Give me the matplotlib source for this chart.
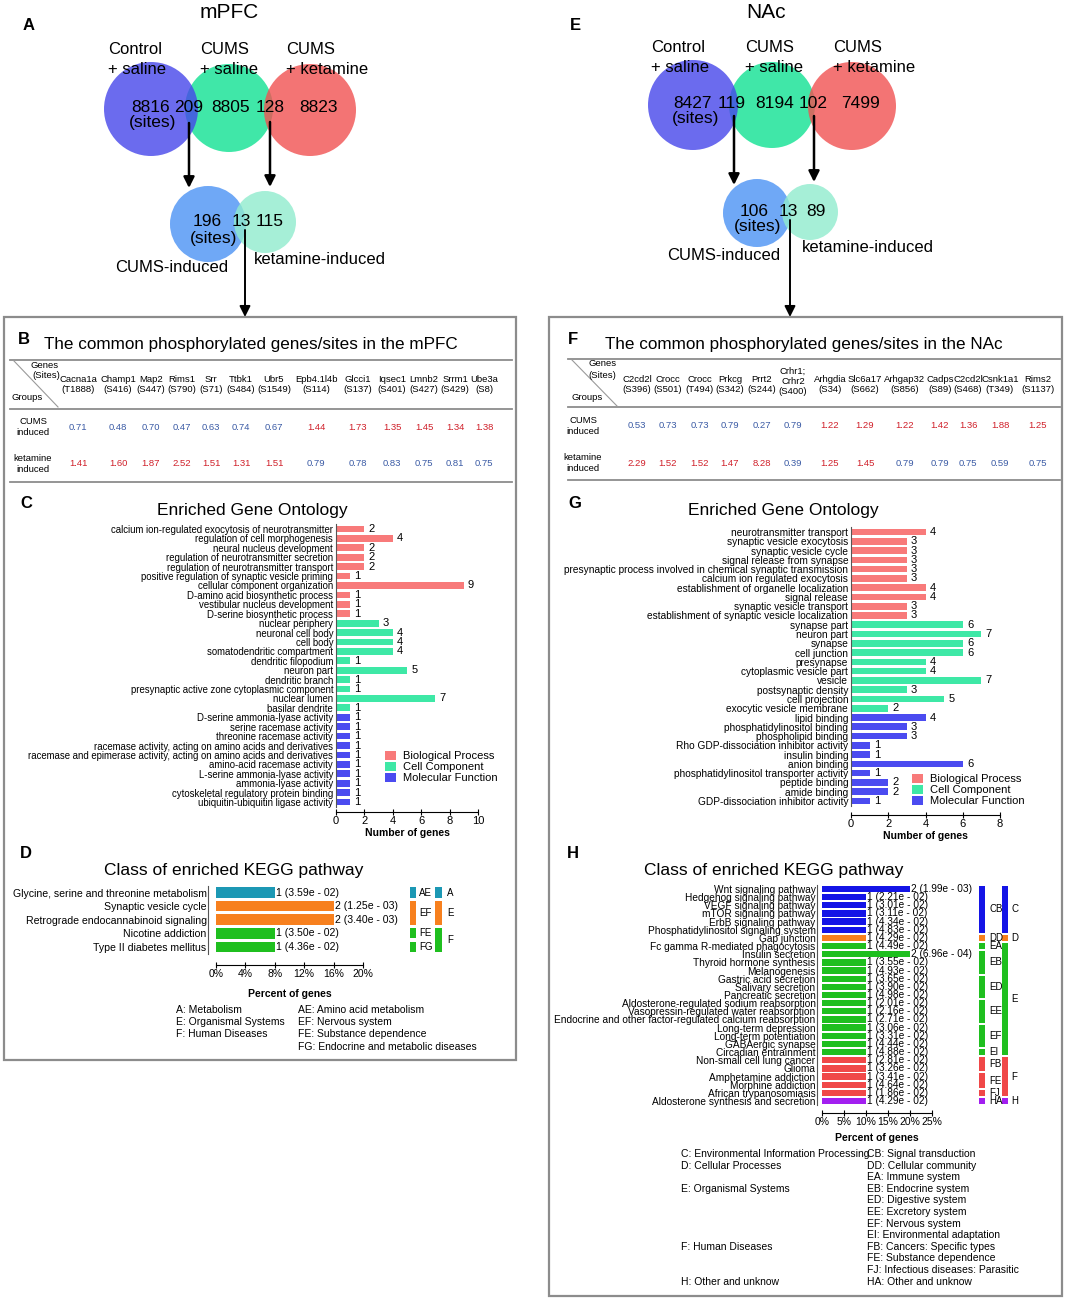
import matplotlib
matplotlib.use("Agg")
import matplotlib.pyplot as plt
import matplotlib.transforms as mtransforms
from matplotlib.patches import Circle, Rectangle, Patch

plt.rcParams['font.family'] = ['Liberation Sans', 'DejaVu Sans']

# ---------------- data ----------------
mpfc_top = [8816, 209, 8805, 128, 8823]
mpfc_sub = [196, 13, 115]
nac_top = [8427, 119, 8194, 102, 7499]
nac_sub = [106, 13, 89]

mpfc_genes = ["Cacna1a", "Champ1", "Map2", "Rims1", "Srr", "Ttbk1", "Ubr5",
              "Epb4.1l4b", "Glcci1", "Iqsec1", "Lmnb2", "Srrm1", "Ube3a"]
mpfc_sites = ["(T1888)", "(S416)", "(S447)", "(S790)", "(S71)", "(S484)", "(S1549)",
              "(S114)", "(S137)", "(S401)", "(S427)", "(S429)", "(S8)"]
mpfc_cums = [0.71, 0.48, 0.70, 0.47, 0.63, 0.74, 0.67, 1.44, 1.73, 1.35, 1.45, 1.34, 1.38]
mpfc_ket = [1.41, 1.60, 1.87, 2.52, 1.51, 1.31, 1.51, 0.79, 0.78, 0.83, 0.75, 0.81, 0.75]

nac_genes = ["C2cd2l", "Crocc", "Crocc", "Prkcg", "Prrt2", "Crhr1;\nCrhr2", "Arhgdia",
             "Slc6a17", "Arhgap32", "Cadps", "C2cd2l", "Csnk1a1", "Rims2"]
nac_sites = ["(S396)", "(S501)", "(T494)", "(S342)", "(S244)", "(S400)", "(S34)",
             "(S662)", "(S856)", "(S89)", "(S468)", "(T349)", "(S1137)"]
nac_cums = [0.53, 0.73, 0.73, 0.79, 0.27, 0.79, 1.22, 1.29, 1.22, 1.42, 1.36, 1.88, 1.25]
nac_ket = [2.29, 1.52, 1.52, 1.47, 8.28, 0.39, 1.25, 1.45, 0.79, 0.79, 0.75, 0.59, 0.75]

mpfc_go_terms = ["calcium ion-regulated exocytosis of neurotransmitter", "regulation of cell morphogenesis",
                 "neural nucleus development", "regulation of neurotransmitter secretion",
                 "regulation of neurotransmitter transport", "positive regulation of synaptic vesicle priming",
                 "cellular component organization", "D-amino acid biosynthetic process",
                 "vestibular nucleus development", "D-serine biosynthetic process",
                 "nuclear periphery", "neuronal cell body", "cell body", "somatodendritic compartment",
                 "dendritic filopodium", "neuron part", "dendritic branch",
                 "presynaptic active zone cytoplasmic component", "nuclear lumen", "basilar dendrite",
                 "D-serine ammonia-lyase activity", "serine racemase activity", "threonine racemase activity",
                 "racemase activity, acting on amino acids and derivatives",
                 "racemase and epimerase activity, acting on amino acids and derivatives",
                 "amino-acid racemase activity", "L-serine ammonia-lyase activity", "ammonia-lyase activity",
                 "cytoskeletal regulatory protein binding", "ubiquitin-ubiquitin ligase activity"]
mpfc_go_n = [2, 4, 2, 2, 2, 1, 9, 1, 1, 1,
             3, 4, 4, 4, 1, 5, 1, 1, 7, 1,
             1, 1, 1, 1, 1, 1, 1, 1, 1, 1]
mpfc_go_cat = ["BP"] * 10 + ["CC"] * 10 + ["MF"] * 10

nac_go_terms = ["neurotransmitter transport", "synaptic vesicle exocytosis", "synaptic vesicle cycle",
                "signal release from synapse", "presynaptic process involved in chemical synaptic transmission",
                "calcium ion regulated exocytosis", "establishment of organelle localization", "signal release",
                "synaptic vesicle transport", "establishment of synaptic vesicle localization",
                "synapse part", "neuron part", "synapse", "cell junction", "presynapse",
                "cytoplasmic vesicle part", "vesicle", "postsynaptic density", "cell projection",
                "exocytic vesicle membrane",
                "lipid binding", "phosphatidylinositol binding", "phospholipid binding",
                "Rho GDP-dissociation inhibitor activity", "insulin binding", "anion binding",
                "phosphatidylinositol transporter activity", "peptide binding", "amide binding",
                "GDP-dissociation inhibitor activity"]
nac_go_n = [4, 3, 3, 3, 3, 3, 4, 4, 3, 3,
            6, 7, 6, 6, 4, 4, 7, 3, 5, 2,
            4, 3, 3, 1, 1, 6, 1, 2, 2, 1]
nac_go_cat = ["BP"] * 10 + ["CC"] * 10 + ["MF"] * 10

go_colors = {"BP": "#f87a7a", "CC": "#3ee8a6", "MF": "#4b4bf0"}
go_names = {"BP": "Biological Process", "CC": "Cell Component", "MF": "Molecular Function"}

mpfc_kegg = ["Glycine, serine and threonine metabolism", "Synaptic vesicle cycle",
             "Retrograde endocannabinoid signaling", "Nicotine addiction", "Type II diabetes mellitus"]
mpfc_kegg_n = [1, 2, 2, 1, 1]
mpfc_kegg_p = ["3.59e - 02", "1.25e - 03", "3.40e - 03", "3.50e - 02", "4.36e - 02"]
mpfc_kegg_pct = [8, 16, 16, 8, 8]
mpfc_kegg_sub = ["AE", "EF", "EF", "FE", "FG"]
mpfc_kegg_cls = ["A", "E", "E", "F", "F"]

nac_kegg = ["Wnt signaling pathway", "Hedgehog signaling pathway", "VEGF signaling pathway",
            "mTOR signaling pathway", "ErbB signaling pathway", "Phosphatidylinositol signaling system",
            "Gap junction", "Fc gamma R-mediated phagocytosis", "Insulin secretion",
            "Thyroid hormone synthesis", "Melanogenesis", "Gastric acid secretion", "Salivary secretion",
            "Pancreatic secretion", "Aldosterone-regulated sodium reabsorption",
            "Vasopressin-regulated water reabsorption",
            "Endocrine and other factor-regulated calcium reabsorption", "Long-term depression",
            "Long-term potentiation", "GABAergic synapse", "Circadian entrainment",
            "Non-small cell lung cancer", "Glioma", "Amphetamine addiction", "Morphine addiction",
            "African trypanosomiasis", "Aldosterone synthesis and secretion"]
nac_kegg_n = [2, 1, 1, 1, 1, 1, 1, 1, 2, 1, 1, 1, 1, 1, 1, 1, 1, 1, 1, 1, 1, 1, 1, 1, 1, 1, 1]
nac_kegg_p = ["1.99e - 03", "2.21e - 02", "3.01e - 02", "3.11e - 02", "4.34e - 02", "4.83e - 02",
              "4.29e - 02", "4.49e - 02", "6.96e - 04", "3.55e - 02", "4.93e - 02", "3.65e - 02",
              "3.90e - 02", "4.98e - 02", "2.01e - 02", "2.16e - 02", "2.71e - 02", "3.06e - 02",
              "3.31e - 02", "4.44e - 02", "4.88e - 02", "2.81e - 02", "3.26e - 02", "3.41e - 02",
              "4.64e - 02", "1.86e - 02", "4.29e - 02"]
nac_kegg_pct = [20, 10, 10, 10, 10, 10, 10, 10, 20, 10, 10, 10, 10, 10, 10, 10, 10, 10, 10, 10,
                10, 10, 10, 10, 10, 10, 10]
nac_kegg_sub = ["CB"] * 6 + ["DD", "EA", "EB", "EB", "EB", "ED", "ED", "ED", "EE", "EE", "EE",
                             "EF", "EF", "EF", "EI", "FB", "FB", "FE", "FE", "FJ", "HA"]
nac_kegg_cls = ["C"] * 6 + ["D"] + ["E"] * 14 + ["F"] * 5 + ["H"]

mpfc_kegg_colors = {"A": "#1c98b4", "E": "#f7801e", "F": "#1fbf1f"}
nac_kegg_colors = {"C": "#1414e6", "D": "#f7801e", "E": "#1fbf1f", "F": "#f04848", "H": "#a21ff0"}

mpfc_key_left = ["A: Metabolism", "E: Organismal Systems", "F: Human Diseases"]
mpfc_key_right = ["AE: Amino acid metabolism", "EF: Nervous system", "FE: Substance dependence",
                  "FG: Endocrine and metabolic diseases"]
nac_key_left = ["C: Environmental Information Processing", "D: Cellular Processes",
                "E: Organismal Systems", "F: Human Diseases", "H: Other and unknow"]
nac_key_left_row = [0, 1, 3, 8, 11]
nac_key_right = ["CB: Signal transduction", "DD: Cellular community", "EA: Immune system",
                 "EB: Endocrine system", "ED: Digestive system", "EE: Excretory system",
                 "EF: Nervous system", "EI: Environmental adaptation", "FB: Cancers: Specific types",
                 "FE: Substance dependence", "FJ: Infectious diseases: Parasitic", "HA: Other and unknow"]

# ---------------- figure ----------------
W, H = 1066, 1300
fig = plt.figure(figsize=(W / 100, H / 100), dpi=100)
ov = fig.add_axes([0, 0, 1, 1])
ov.set_xlim(0, W)
ov.set_ylim(H, 0)
ov.axis('off')


def px_axes(x0, y0, x1, y1):
    a = fig.add_axes([x0 / W, 1 - y1 / H, (x1 - x0) / W, (y1 - y0) / H])
    a.patch.set_visible(False)
    return a


def arrow(x, y0, y1, lw=1.6):
    ov.annotate('', xy=(x, y1), xytext=(x, y0),
                arrowprops=dict(arrowstyle='-|>', color='k', lw=lw, mutation_scale=16,
                                shrinkA=0, shrinkB=0), zorder=6)


top_colors = ['#4646ea', '#10e292', '#f15151']
sub_colors = ['#4b92f4', '#90ecce']


def draw_venn(L, top, sub):
    ov.text(L['title'][0], L['title'][1], L['name'], ha='center', va='center', fontsize=15)
    ov.text(L['letter'][0], L['letter'][1], L['lt'], ha='center', va='center', fontsize=12, fontweight='bold')
    for (cx, cy, r), col, z in zip(L['circles'], top_colors, [2, 1, 3]):
        ov.add_patch(Circle((cx, cy), r, facecolor=col, alpha=0.8, lw=0, zorder=z))
    for txt, x, y in L['labels']:
        ov.text(x, y, txt, ha='left', va='center', fontsize=12, zorder=5)
    for n, x in zip(top, L['num_x']):
        ov.text(x, L['num_y'], str(n), ha='center', va='center', fontsize=12.5, zorder=5)
    ov.text(L['sites'][0], L['sites'][1], "(sites)", ha='center', va='center', fontsize=12.5, zorder=5)
    for x, y0, y1 in L['arrows']:
        arrow(x, y0, y1, 1.8)
    for (cx, cy, r), col in zip(L['sub_circles'], sub_colors):
        ov.add_patch(Circle((cx, cy), r, facecolor=col, alpha=0.8, lw=0, zorder=2))
    for n, x in zip(sub, L['sub_x']):
        ov.text(x, L['sub_y'], str(n), ha='center', va='center', fontsize=12.5, zorder=5)
    ov.text(L['sub_sites'][0], L['sub_sites'][1], "(sites)", ha='center', va='center', fontsize=12.5, zorder=5)
    ov.text(L['cums_lab'][0], L['cums_lab'][1], "CUMS-induced", ha='center', va='center', fontsize=12)
    ov.text(L['ket_lab'][0], L['ket_lab'][1], "ketamine-induced", ha='center', va='center', fontsize=12)
    x, y0, y1 = L['final']
    arrow(x, y0, y1, 1.4)


left_venn = dict(name="mPFC", title=(229, 13), lt="A", letter=(29, 25),
                 circles=[(151, 109, 47), (229, 108, 44), (310, 110, 46)],
                 labels=[("Control", 108, 49), ("+ saline", 108, 70), ("CUMS", 200, 49),
                         ("+ saline", 200, 70), ("CUMS", 286, 49), ("+ ketamine", 286, 70)],
                 num_x=[151, 189, 231, 270, 318], num_y=107, sites=(153, 123),
                 arrows=[(189, 123, 188), (270, 122, 187)],
                 sub_circles=[(208, 224, 38), (265, 222, 31)],
                 sub_x=[207, 241, 270], sub_y=222, sub_sites=(214, 239),
                 cums_lab=(172, 268), ket_lab=(320, 260), final=(245, 230, 317))
right_venn = dict(name="NAc", title=(766, 12), lt="E", letter=(575, 25),
                  circles=[(693, 105, 45), (772, 105, 43), (852, 106, 44)],
                  labels=[("Control", 651, 47), ("+ saline", 651, 68), ("CUMS", 745, 47),
                          ("+ saline", 745, 68), ("CUMS", 833, 47), ("+ ketamine", 833, 68)],
                  num_x=[693, 732, 775, 813, 861], num_y=104, sites=(696, 118),
                  arrows=[(734, 116, 185), (814, 116, 182)],
                  sub_circles=[(757, 213, 34), (810, 212, 28)],
                  sub_x=[754, 788, 816], sub_y=212, sub_sites=(758, 227),
                  cums_lab=(724, 255), ket_lab=(868, 248), final=(790, 220, 317))

draw_venn(left_venn, mpfc_top, mpfc_sub)
draw_venn(right_venn, nac_top, nac_sub)

# boxes
ov.add_patch(Rectangle((4, 317), 512, 743, fill=False, edgecolor='#8c8c8c', lw=1.6))
ov.add_patch(Rectangle((549, 317), 513, 979, fill=False, edgecolor='#8c8c8c', lw=1.6))

# ---------------- tables ----------------
BLUE_V, RED_V = '#3b5ba5', '#d0202a'


def draw_table(T, genes, sites, cums, ket):
    ov.text(T['letter'][0], T['letter'][1], T['lt'], ha='center', va='center', fontsize=12, fontweight='bold')
    ov.text(T['title_x'], 345, "The common phosphorylated genes/sites in the " + T['region'],
            ha='left', va='center', fontsize=12.3)
    x0, x1 = T['xr']
    for y in T['lines']:
        ov.plot([x0, x1], [y, y], color='#8c8c8c', lw=1.3)
    (dx0, dy0), (dx1, dy1) = T['diag']
    ov.plot([dx0, dx1], [dy0, dy1], color='#9a9a9a', lw=0.8)
    ov.text(T['genes_xy'][0], T['genes_xy'][1], "Genes", ha='center', va='center', fontsize=6.8)
    ov.text(T['sites_xy'][0], T['sites_xy'][1], "(Sites)", ha='center', va='center', fontsize=6.8)
    ov.text(T['groups_xy'][0], T['groups_xy'][1], "Groups", ha='center', va='center', fontsize=6.8)
    for x, g, s in zip(T['cols'], genes, sites):
        ov.text(x, T['head_y'] - (3 if "\n" in g else 0), g + "\n" + s, ha='center', va='center',
                fontsize=6.8, linespacing=1.15, multialignment='center')
    for (lab, y), vals in zip(zip(["CUMS\ninduced", "ketamine\ninduced"], T['rows']), [cums, ket]):
        ov.text(T['group_x'], y, lab, ha='center', va='center', fontsize=6.8, linespacing=1.15)
        for x, v in zip(T['cols'], vals):
            ov.text(x, y, f"{v:.2f}", ha='center', va='center', fontsize=6.8,
                    color=RED_V if v > 1 else BLUE_V)


left_table = dict(lt="B", letter=(24, 340), title_x=44, region="mPFC", xr=(10, 512),
                  lines=[360, 409, 482], diag=((14, 361), (58, 407)),
                  genes_xy=(45, 365), sites_xy=(46, 376), groups_xy=(27, 398),
                  cols=[78, 118, 151, 182, 211, 241, 274, 316, 358, 392, 424, 455, 484],
                  head_y=384.5, rows=[427, 464], group_x=33)
right_table = dict(lt="F", letter=(573, 340), title_x=605, region="NAc", xr=(568, 1060),
                   lines=[359, 407, 480], diag=((572, 360), (617, 406)),
                   genes_xy=(603, 364), sites_xy=(602, 376), groups_xy=(587, 398),
                   cols=[637, 668, 700, 730, 762, 793, 830, 865, 905, 940, 968, 1000, 1038],
                   head_y=384.5, rows=[426, 463], group_x=583)

draw_table(left_table, mpfc_genes, mpfc_sites, mpfc_cums, mpfc_ket)
draw_table(right_table, nac_genes, nac_sites, nac_cums, nac_ket)


# ---------------- GO panels ----------------
def go_panel(box, terms, counts, cats, xmax, lab_fs, off_px, legend_xy, letter, title_xy):
    ax = px_axes(*box)
    for s in ['top', 'right']:
        ax.spines[s].set_visible(False)
    ax.spines['left'].set_color('#555555')
    ax.spines['bottom'].set_position(('outward', off_px * 0.72))
    y = list(range(len(terms)))
    bars = ax.barh(y, counts, height=0.72, color=[go_colors[c] for c in cats])
    ax.set_ylim(len(terms) - 0.5, -0.5)
    ax.set_xlim(0, xmax)
    ax.set_yticks(y)
    ax.set_yticklabels(terms, fontsize=lab_fs)
    ax.tick_params(axis='y', length=0, pad=2)
    ax.bar_label(bars, labels=[str(c) for c in counts], padding=3, fontsize=8)
    ax.spines['bottom'].set_bounds(0, xmax)
    ax.set_xticks(range(0, xmax + 1, 2))
    ax.tick_params(axis='x', direction='inout', length=4, labelsize=8, pad=1)
    ax.set_xlabel("Number of genes", fontsize=7.5, fontweight='bold', labelpad=1)
    handles = [Patch(facecolor=go_colors[k], label=go_names[k]) for k in ["BP", "CC", "MF"]]
    ax.legend(handles=handles, loc='upper left', bbox_to_anchor=(legend_xy[0] / W, 1 - legend_xy[1] / H),
              bbox_transform=fig.transFigure, frameon=False, fontsize=8, handlelength=1.0,
              handleheight=0.8, handletextpad=0.6, labelspacing=0.08, borderpad=0, borderaxespad=0)
    ov.text(letter[1], letter[2], letter[0], ha='center', va='center', fontsize=12, fontweight='bold')
    ov.text(title_xy[0], title_xy[1], "Enriched Gene Ontology", ha='center', va='center', fontsize=12.5)
    return ax


go_panel((336, 524.3, 478, 806.7), mpfc_go_terms, mpfc_go_n, mpfc_go_cat, 10, 6.9, 5.3,
         (385, 751), ("C", 26, 503), (252, 511))
go_panel((851, 527.4, 1000, 805.6), nac_go_terms, nac_go_n, nac_go_cat, 8, 7.3, 9.4,
         (912, 774), ("G", 575, 503), (783, 511))


# ---------------- KEGG panels ----------------
def runs(labels):
    out, start = [], 0
    for i in range(1, len(labels) + 1):
        if i == len(labels) or labels[i] != labels[start]:
            out.append((labels[start], start, i - 1))
            start = i
    return out


def kegg_panel(box, terms, pct, counts, pvals, subs, clss, cmap, xmax, xstep, lab_fs, off_b, off_l,
               cols_x, letter, title_xy, xlabel_xy, keys):
    ax = px_axes(*box)
    # move spines first: set_position resets tick styling
    for s in ['top', 'right']:
        ax.spines[s].set_visible(False)
    ax.spines['left'].set_position(('outward', off_l * 0.72))
    ax.spines['left'].set_color('#555555')
    ax.spines['bottom'].set_position(('outward', off_b * 0.72))
    y = list(range(len(terms)))
    bars = ax.barh(y, pct, height=0.78, color=[cmap[c] for c in clss])
    ax.set_ylim(len(terms) - 0.5, -0.5)
    ax.set_xlim(0, xmax)
    ax.set_yticks(y)
    ax.set_yticklabels(terms, fontsize=lab_fs)
    ax.tick_params(axis='y', length=0, pad=1)
    ax.bar_label(bars, labels=[f"{n} ({p})" for n, p in zip(counts, pvals)], padding=1, fontsize=lab_fs)
    ax.spines['bottom'].set_bounds(0, xmax)
    ticks = list(range(0, xmax + 1, xstep))
    ax.set_xticks(ticks)
    ax.set_xticklabels([f"{t}%" for t in ticks])
    ax.tick_params(axis='x', direction='inout', length=4, labelsize=7.5, pad=1)
    blend = mtransforms.blended_transform_factory(ov.transData, ax.transData)
    for labels, (bx, bw, tx) in zip([subs, clss], cols_x):
        for lab, s, e in runs(labels):
            ax.add_patch(Rectangle((bx, s - 0.38), bw, e - s + 0.76, transform=blend, clip_on=False,
                                   facecolor=cmap[lab[0]], lw=0))
            ax.text(tx, (s + e) / 2, lab, transform=blend, ha='left', va='center', fontsize=7)
    ov.text(letter[1], letter[2], letter[0], ha='center', va='center', fontsize=12, fontweight='bold')
    ov.text(title_xy[0], title_xy[1], "Class of enriched KEGG pathway", ha='center', va='center', fontsize=12.5)
    ov.text(xlabel_xy[0], xlabel_xy[1], "Percent of genes", ha='center', va='center', fontsize=7.5,
            fontweight='bold')
    (lx, ly_list, left), (rx, ry0, dy, right) = keys
    for t, r in zip(left, ly_list):
        ov.text(lx, ry0 + r * dy, t, ha='left', va='center', fontsize=7.5)
    for i, t in enumerate(right):
        ov.text(rx, ry0 + i * dy, t, ha='left', va='center', fontsize=7.5)
    return ax


kegg_panel((216, 885.7, 363, 953.7), mpfc_kegg, mpfc_kegg_pct, mpfc_kegg_n, mpfc_kegg_p,
           mpfc_kegg_sub, mpfc_kegg_cls, mpfc_kegg_colors, 20, 4, 7.6, 11.3, 8,
           [(410, 6, 419), (435, 7, 447)], ("D", 26, 853), (234, 871), (290, 994),
           ((176, [0, 1, 2], mpfc_key_left), (298, 1010, 12.2, mpfc_key_right)))
kegg_panel((822, 884.9, 932, 1105.1), nac_kegg, nac_kegg_pct, nac_kegg_n, nac_kegg_p,
           nac_kegg_sub, nac_kegg_cls, nac_kegg_colors, 25, 5, 7.3, 7.9, 5,
           [(979, 6, 989), (1002, 6, 1011)], ("H", 573, 853), (774, 871), (877, 1138),
           ((681, nac_key_left_row, nac_key_left), (867, 1154, 11.6, nac_key_right)))

fig.savefig("out.png", dpi=100)
